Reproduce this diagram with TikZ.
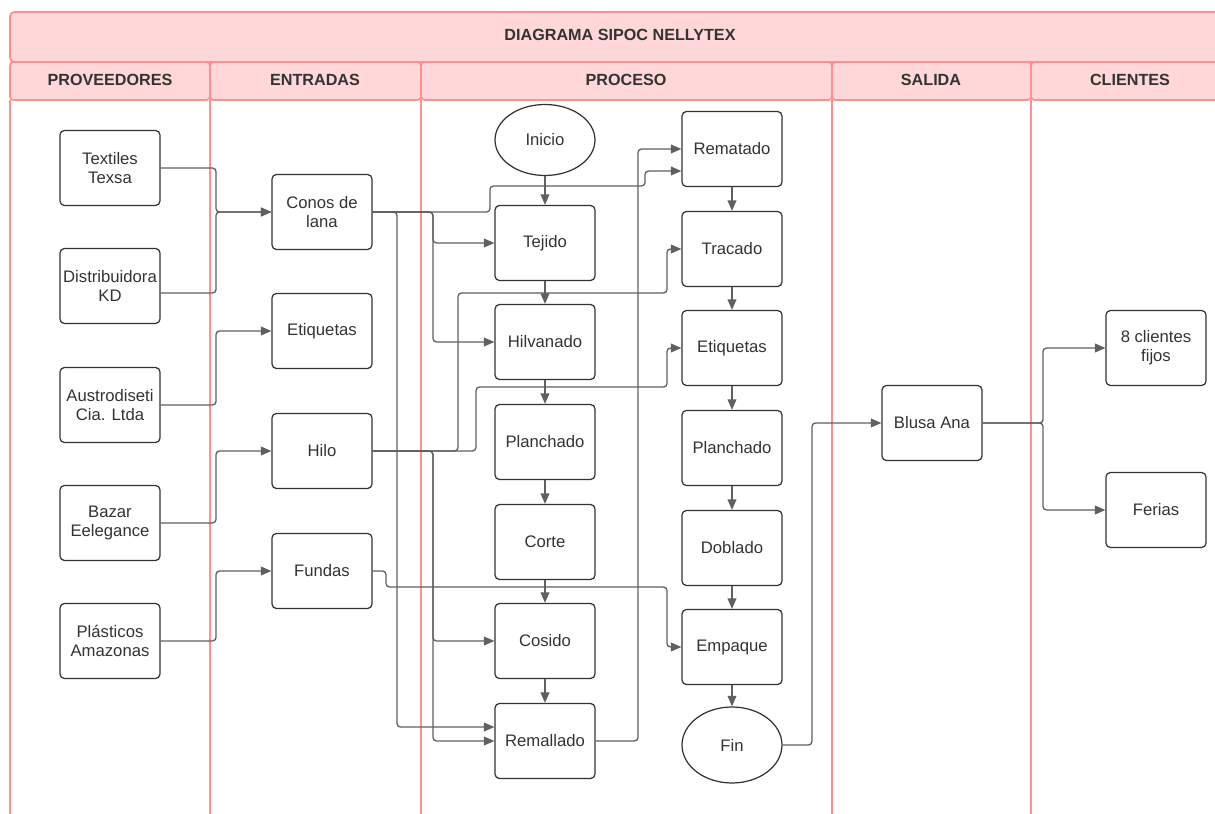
\documentclass[tikz,border=0pt]{standalone}
\usepackage{fontspec}
\setmainfont{Liberation Sans}
\usetikzlibrary{arrows.meta,shapes.geometric,calc}
\definecolor{lanec}{HTML}{FF9090}
\definecolor{headf}{HTML}{FFD7D8}
\definecolor{txt}{HTML}{333333}
\definecolor{linec}{HTML}{606060}
\begin{document}
\begin{tikzpicture}[x=0.02cm,y=-0.02cm,
  box/.style={draw=txt, line width=0.7pt, rounded corners=2.5pt, minimum width=2cm, minimum height=1.5cm, align=center, text=txt, font=\fontsize{9.5}{11}\selectfont, inner sep=1pt},
  oval/.style={ellipse, draw=txt, line width=0.7pt, minimum width=2cm, text=txt, font=\fontsize{9.5}{11}\selectfont, inner sep=1pt},
  conn/.style={draw=linec, line width=0.75pt, rounded corners=2pt, -{Triangle[length=6pt,width=5pt]}},
  lane/.style={draw=lanec, line width=1pt},
  hdr/.style={font=\bfseries\fontsize{9.2}{11}\selectfont, text=txt}]
\clip (0,0) rectangle (1215,814);
% swimlane frame
\draw[lane, fill=headf, rounded corners=2.5pt] (10,12) rectangle (1240,62);
\draw[lane, fill=headf, rounded corners=2pt] (10,62) rectangle (210,100);
\draw[lane, fill=headf, rounded corners=2pt] (210,62) rectangle (421,100);
\draw[lane, fill=headf, rounded corners=2pt] (421,62) rectangle (832,100);
\draw[lane, fill=headf, rounded corners=2pt] (832,62) rectangle (1031,100);
\draw[lane, fill=headf, rounded corners=2pt] (1031,62) rectangle (1240,100);
\foreach \xx in {10,210,421,832,1031} \draw[lane] (\xx,100) -- (\xx,830);
\node[hdr] (title) at (620,35) {DIAGRAMA SIPOC NELLYTEX};
\node[hdr] (hprov) at (110,80) {PROVEEDORES};
\node[hdr] (hent) at (315,80) {ENTRADAS};
\node[hdr] (hproc) at (626,80) {PROCESO};
\node[hdr] (hsal) at (931,80) {SALIDA};
\node[hdr] (hcli) at (1130,80) {CLIENTES};
% proveedores
\node[box] (texsa) at (110,168) {Textiles\\Texsa};
\node[box] (kd) at (110,286) {Distribuidora\\KD};
\node[box] (austro) at (110,405) {Austrodiseti\\Cia. Ltda};
\node[box] (bazar) at (110,523) {Bazar\\Eelegance};
\node[box] (plast) at (110,641) {Plásticos\\Amazonas};
% entradas
\node[box] (conos) at (322,212) {Conos de\\lana};
\node[box] (etiq) at (322,331) {Etiquetas};
\node[box] (hilo) at (322,451) {Hilo};
\node[box] (fundas) at (322,571) {Fundas};
% proceso col 1
\node[oval, minimum height=1.42cm] (inicio) at (545,140) {Inicio};
\node[box] (tejido) at (545,243) {Tejido};
\node[box] (hilv) at (545,342) {Hilvanado};
\node[box] (planch) at (545,442) {Planchado};
\node[box] (corte) at (545,542) {Corte};
\node[box] (cosido) at (545,641) {Cosido};
\node[box] (remall) at (545,741) {Remallado};
% proceso col 2
\node[box] (remat) at (732,149) {Rematado};
\node[box] (tracado) at (732,249) {Tracado};
\node[box] (etiq2) at (732,348) {Etiquetas};
\node[box] (planch2) at (732,448) {Planchado};
\node[box] (doblado) at (732,548) {Doblado};
\node[box] (empaque) at (732,647) {Empaque};
\node[oval, minimum height=1.52cm] (fin) at (732,745) {Fin};
% salida / clientes
\node[box] (blusa) at (932,423) {Blusa Ana};
\node[box] (fijos) at (1156,348) {8 clientes\\fijos};
\node[box] (ferias) at (1156,510) {Ferias};
% proveedores -> entradas
\draw[conn] (texsa.east) -| (216,212) -- (conos.west);
\draw[conn] ($(kd.east)+(0,7)$) -| (216,212) -- (conos.west);
\draw[conn] (austro.east) -| (216,331) -- (etiq.west);
\draw[conn] (bazar.east) -| (216,451) -- (hilo.west);
\draw[conn] (plast.east) -| (216,571) -- (fundas.west);
% entradas -> proceso
\draw[conn] (conos.east) -| (490,186) -- (645,186) |- ($(remat.west)+(0,22)$);
\draw[conn] (conos.east) -| (433,243) -- (tejido.west);
\draw[conn] (conos.east) -| (433,342) -- (hilv.west);
\draw[conn] (conos.east) -| (397,727) -- ($(remall.west)+(0,-14)$);
\draw[conn] (hilo.east) -| (458,293) -- (667,293) |- (tracado.west);
\draw[conn] (hilo.east) -| (476,387) -- (667,387) |- (etiq2.west);
\draw[conn] (hilo.east) -| (433,641) -- (cosido.west);
\draw[conn] (hilo.east) -| (433,741) -- (remall.west);
\draw[conn] (fundas.east) -| (386,587) -- (667,587) |- (empaque.west);
% process flow
\draw[conn] (inicio.south) -- (tejido.north);
\draw[conn] (tejido.south) -- (hilv.north);
\draw[conn] (hilv.south) -- (planch.north);
\draw[conn] (planch.south) -- (corte.north);
\draw[conn] (corte.south) -- (cosido.north);
\draw[conn] (cosido.south) -- (remall.north);
\draw[conn] (remall.east) -| (638,149) -- (remat.west);
\draw[conn] (remat.south) -- (tracado.north);
\draw[conn] (tracado.south) -- (etiq2.north);
\draw[conn] (etiq2.south) -- (planch2.north);
\draw[conn] (planch2.south) -- (doblado.north);
\draw[conn] (doblado.south) -- (empaque.north);
\draw[conn] (empaque.south) -- (fin.north);
% salida / clientes
\draw[conn] (fin.east) -| (812,423) -- (blusa.west);
\draw[conn] (blusa.east) -| (1043,348) -- (fijos.west);
\draw[conn] (blusa.east) -| (1043,510) -- (ferias.west);
\end{tikzpicture}
\end{document}
